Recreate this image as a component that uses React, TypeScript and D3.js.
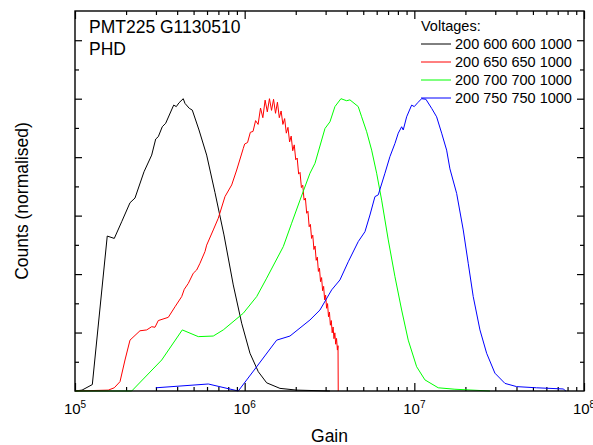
import React, { useEffect, useRef } from 'react';
import * as d3 from 'd3';

// PHD curves for PMT225, gain vs normalised counts
const black600: [number, number][] = [
  [1.0e5, 0], [1.10e5, 0.003], [1.265e5, 0.022], [1.549e5, 0.530], [1.704e5, 0.522],
  [1.884e5, 0.579], [2.109e5, 0.644], [2.257e5, 0.660], [2.551e5, 0.750], [2.831e5, 0.807],
  [2.99e5, 0.862], [3.097e5, 0.870], [3.269e5, 0.904], [3.424e5, 0.916], [3.816e5, 0.978],
  [3.954e5, 0.973], [4.102e5, 0.986], [4.346e5, 1.0], [4.447e5, 0.984], [4.716e5, 0.967],
  [4.912e5, 0.961], [5.38e5, 0.893], [5.971e5, 0.807], [6.683e5, 0.679], [7.551e5, 0.534],
  [8.566e5, 0.363], [9.6e5, 0.232], [1.075e6, 0.129], [1.203e6, 0.066], [1.348e6, 0.028],
  [1.614e6, 0.009], [2.025e6, 0.003], [3.18e6, 0],
];

const red650: [number, number][] = [
  [1.0e5, 0], [1.571e5, 0.003], [1.704e5, 0.011], [1.842e5, 0.032], [1.971e5, 0.106],
  [2.109e5, 0.174], [2.415e5, 0.206], [2.646e5, 0.209], [2.831e5, 0.220], [2.961e5, 0.218],
  [3.097e5, 0.241], [3.547e5, 0.252], [3.884e5, 0.288], [4.255e5, 0.323], [4.407e5, 0.348],
  [4.652e5, 0.368], [4.98e5, 0.403], [5.214e5, 0.414], [5.453e5, 0.437], [5.836e5, 0.477],
  [5.971e5, 0.499], [6.531e5, 0.551], [6.989e5, 0.591], [7.655e5, 0.665], [8.385e5, 0.705],
  [8.974e5, 0.756], [9.813e5, 0.830],
  [1.00e6, 0.845], [1.04e6, 0.850], [1.08e6, 0.885], [1.12e6, 0.888], [1.16e6, 0.925],
  [1.20e6, 0.912], [1.24e6, 0.968], [1.28e6, 0.935], [1.32e6, 0.995], [1.36e6, 0.955],
  [1.40e6, 1.000], [1.44e6, 0.960], [1.48e6, 0.998], [1.52e6, 0.950], [1.56e6, 0.988],
  [1.60e6, 0.935], [1.64e6, 0.958], [1.68e6, 0.912], [1.72e6, 0.932], [1.76e6, 0.882],
  [1.80e6, 0.902], [1.84e6, 0.852], [1.88e6, 0.872], [1.92e6, 0.822], [1.96e6, 0.842],
  [2.00e6, 0.791], [2.04e6, 0.797], [2.08e6, 0.742], [2.12e6, 0.748], [2.16e6, 0.696],
  [2.20e6, 0.704], [2.24e6, 0.653], [2.28e6, 0.660], [2.32e6, 0.608], [2.36e6, 0.615],
  [2.40e6, 0.562], [2.44e6, 0.570], [2.48e6, 0.522], [2.52e6, 0.533], [2.56e6, 0.484],
  [2.60e6, 0.496], [2.64e6, 0.447], [2.68e6, 0.458], [2.72e6, 0.409], [2.76e6, 0.420],
  [2.80e6, 0.374], [2.84e6, 0.388], [2.88e6, 0.343], [2.92e6, 0.358], [2.96e6, 0.312],
  [3.00e6, 0.328], [3.04e6, 0.283], [3.08e6, 0.299], [3.12e6, 0.254], [3.16e6, 0.270],
  [3.20e6, 0.225], [3.24e6, 0.241], [3.28e6, 0.199], [3.32e6, 0.219], [3.36e6, 0.179],
  [3.40e6, 0.199], [3.44e6, 0.160], [3.48e6, 0.180], [3.52e6, 0.140], [3.55e6, 0.155],
  [3.56e6, 0],
];

const green700: [number, number][] = [
  [1.0e5, 0], [2.159e5, 0], [3.243e5, 0.106], [4.289e5, 0.209], [5.33e5, 0.186],
  [6.531e5, 0.188], [7.48e5, 0.209], [9.813e5, 0.266], [1.177e6, 0.323], [1.348e6, 0.386],
  [1.689e6, 0.494], [1.892e6, 0.574], [2.119e6, 0.653], [2.426e6, 0.745], [2.597e6, 0.779],
  [2.974e6, 0.898], [3.182e6, 0.921], [3.405e6, 0.973], [3.694e6, 1.0], [3.99e6, 0.993],
  [4.173e6, 0.996], [4.67e6, 0.973], [4.892e6, 0.938], [5.236e6, 0.887], [5.603e6, 0.824],
  [5.997e6, 0.745], [6.418e6, 0.653], [7.02e6, 0.517], [7.688e6, 0.391], [8.418e6, 0.277],
  [9.205e6, 0.174], [1.032e7, 0.083], [1.155e7, 0.038], [1.383e7, 0.011], [1.735e7, 0.006],
  [2.79e7, 0],
];

const blue750: [number, number][] = [
  [3.0e5, 0.011], [6.102e5, 0.024], [9.168e5, 0], [1.177e6, 0.083], [1.544e6, 0.174],
  [1.849e6, 0.188], [2.426e6, 0.243], [2.778e6, 0.277], [3.257e6, 0.346], [3.644e6, 0.380],
  [4.078e6, 0.442], [4.67e6, 0.511], [5.117e6, 0.545], [5.475e6, 0.602], [5.86e6, 0.665],
  [6.128e6, 0.671], [6.711e6, 0.745], [7.183e6, 0.802], [7.688e6, 0.847], [8.04e6, 0.882],
  [8.418e6, 0.904], [8.602e6, 0.893], [9.007e6, 0.938], [9.641e6, 0.978], [9.99e6, 0.973],
  [1.046e7, 0.986], [1.104e7, 1.0], [1.17e7, 0.998], [1.265e7, 0.967], [1.353e7, 0.938],
  [1.449e7, 0.882], [1.55e7, 0.824], [1.621e7, 0.760], [1.776e7, 0.676], [1.942e7, 0.551],
  [2.078e7, 0.437], [2.224e7, 0.323], [2.436e7, 0.209], [2.668e7, 0.129], [2.985e7, 0.061],
  [3.42e7, 0.026], [4.007e7, 0.015], [5.257e7, 0.011], [7.542e7, 0.007], [7.82e7, 0],
];

const seriesLabels = ['200 600 600 1000', '200 650 650 1000', '200 700 700 1000', '200 750 750 1000'];
const seriesColors = ['#000000', '#ff0000', '#00ff00', '#0000ff'];
const seriesData = [black600, red650, green700, blue750];
const decades = [5, 6, 7, 8];

const FONT = '"Liberation Sans", Arial, Helvetica, sans-serif';

const App = () => {
  const ref = useRef<SVGSVGElement>(null);

  useEffect(() => {
    const width = 593;
    const height = 445;
    const m = { left: 75, right: 9, top: 11, bottom: 54 };
    const svg = d3.select(ref.current);
    svg.selectAll('*').remove();

    const x = d3.scaleLog().domain([1e5, 1e8]).range([m.left, width - m.right]);
    const y = d3.scaleLinear().domain([0, 1.3]).range([height - m.bottom, m.top]);

    const allX = x.ticks();
    const majorX = allX.filter(v => Math.abs(Math.log10(v) - Math.round(Math.log10(v))) < 1e-9);
    const minorX = allX.filter(v => !majorX.includes(v));
    const yTicks = d3.range(1, 13).map(i => i / 10);
    const majorY = yTicks.filter((_, i) => i % 2 === 1);
    const minorY = yTicks.filter((_, i) => i % 2 === 0);

    const axisStyle = (g: any) => {
      g.select('.domain').remove();
      g.selectAll('line').attr('stroke', '#000').attr('stroke-width', 1.2);
      g.selectAll('text').remove();
    };

    const bottomY = height - m.bottom;
    svg.append('g').attr('transform', `translate(0,${bottomY})`)
      .call(d3.axisBottom(x).tickValues(majorX).tickSize(-8).tickFormat(() => '')).call(axisStyle);
    svg.append('g').attr('transform', `translate(0,${bottomY})`)
      .call(d3.axisBottom(x).tickValues(minorX).tickSize(-4).tickFormat(() => '')).call(axisStyle);
    svg.append('g').attr('transform', `translate(0,${m.top})`)
      .call(d3.axisTop(x).tickValues(majorX).tickSize(-8).tickFormat(() => '')).call(axisStyle);
    svg.append('g').attr('transform', `translate(0,${m.top})`)
      .call(d3.axisTop(x).tickValues(minorX).tickSize(-4).tickFormat(() => '')).call(axisStyle);
    svg.append('g').attr('transform', `translate(${m.left},0)`)
      .call(d3.axisLeft(y).tickValues(majorY).tickSize(-7).tickFormat(() => '')).call(axisStyle);
    svg.append('g').attr('transform', `translate(${m.left},0)`)
      .call(d3.axisLeft(y).tickValues(minorY).tickSize(-4).tickFormat(() => '')).call(axisStyle);
    svg.append('g').attr('transform', `translate(${width - m.right},0)`)
      .call(d3.axisRight(y).tickValues(majorY).tickSize(-7).tickFormat(() => '')).call(axisStyle);
    svg.append('g').attr('transform', `translate(${width - m.right},0)`)
      .call(d3.axisRight(y).tickValues(minorY).tickSize(-4).tickFormat(() => '')).call(axisStyle);

    // curves
    const line = d3.line<[number, number]>()
      .x(d => x(d[0]))
      .y(d => y(d[1]));

    seriesData.forEach((data, i) => {
      svg.append('path')
        .datum(data)
        .attr('fill', 'none')
        .attr('stroke', seriesColors[i])
        .attr('stroke-width', 1)
        .attr('d', line);
    });

    // frame
    svg.append('rect')
      .attr('x', m.left).attr('y', m.top)
      .attr('width', width - m.left - m.right)
      .attr('height', height - m.top - m.bottom)
      .attr('fill', 'none').attr('stroke', '#000').attr('stroke-width', 1.4);

    // x tick labels 10^n
    decades.forEach(p => {
      const t = svg.append('text')
        .attr('x', x(Math.pow(10, p)))
        .attr('y', 414)
        .attr('text-anchor', 'middle')
        .attr('font-family', FONT)
        .attr('font-size', 15);
      t.append('tspan').text('10');
      t.append('tspan').attr('font-size', 10).attr('dy', -6).text(String(p));
    });

    svg.append('text')
      .attr('x', (m.left + width - m.right) / 2)
      .attr('y', 442)
      .attr('text-anchor', 'middle')
      .attr('font-family', FONT)
      .attr('font-size', 17.5)
      .text('Gain');

    svg.append('text')
      .attr('transform', `translate(28,${(m.top + bottomY) / 2}) rotate(-90)`)
      .attr('text-anchor', 'middle')
      .attr('font-family', FONT)
      .attr('font-size', 17.5)
      .text('Counts (normalised)');

    // title
    svg.append('text').attr('x', 89).attr('y', 33)
      .attr('font-family', FONT).attr('font-size', 17.5).text('PMT225 G1130510');
    svg.append('text').attr('x', 89).attr('y', 55)
      .attr('font-family', FONT).attr('font-size', 17.5).text('PHD');

    // legend
    const lg = svg.append('g');
    lg.append('text').attr('x', 421).attr('y', 31)
      .attr('font-family', FONT).attr('font-size', 14.5).text('Voltages:');
    seriesLabels.forEach((lab, i) => {
      const ly = 44 + i * 18;
      lg.append('line').attr('x1', 421).attr('x2', 451).attr('y1', ly).attr('y2', ly)
        .attr('stroke', seriesColors[i]).attr('stroke-width', 1);
      lg.append('text').attr('x', 455).attr('y', ly + 5)
        .attr('font-family', FONT).attr('font-size', 14.5).text(lab);
    });
  }, []);

  return (
    <svg
      ref={ref}
      width={593}
      height={445}
      style={{ position: 'absolute', left: 0, top: 0, background: '#fff' }}
    />
  );
};

export default App;
